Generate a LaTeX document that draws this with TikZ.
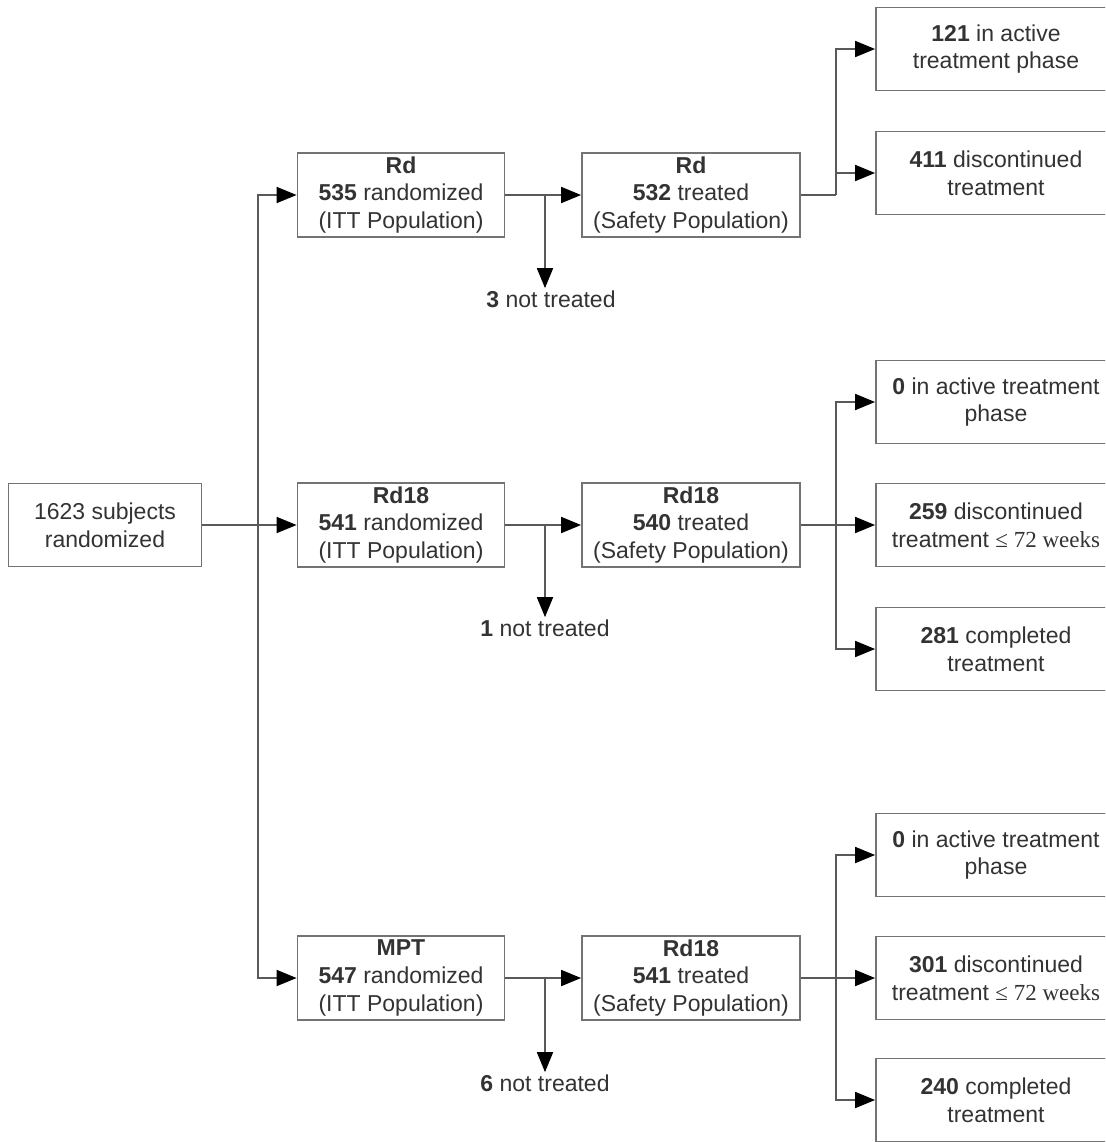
\documentclass[tikz,border=0pt]{standalone}
\usepackage{fontspec}
\setmainfont{Liberation Sans}
\newfontfamily\wkfont{Liberation Serif}
\usetikzlibrary{arrows.meta}

\tikzset{
	box/.style={draw=black!55, line width=0.9pt, fill=white, align=center, text=black!80,
		font=\fontsize{11.5}{13.8}\selectfont, inner sep=2pt},
	ittbox/.style={box, minimum width=103.5pt, minimum height=41.5pt},
	safbox/.style={box, minimum width=109pt, minimum height=41.5pt},
	outbox/.style={box, minimum width=120pt, minimum height=41.5pt},
	lbl/.style={text=black!80, font=\fontsize{11.5}{13.8}\selectfont, inner sep=1pt},
	conn/.style={draw=black!65, line width=0.9pt},
	arr/.style={conn, -{Triangle[length=10pt,width=8pt,color=black]}}
}

\begin{document}
\begin{tikzpicture}[x=0.5pt, y=-0.5pt]
		% Marco de la imagen
		\clip (0,0) rectangle (1105,1142);
		\fill[white] (0,0) rectangle (1105,1142);
		
		% Nodo inicial
		\node[box, minimum width=96.5pt, minimum height=41.5pt] (subj) at (105,525) {1623 subjects\\randomized};
		
		% Fila 1: Rd
		\node[ittbox] (itt1) at (401,195) {\textbf{Rd}\\\textbf{535} randomized\\(ITT Population)};
		\node[safbox] (saf1) at (691,195) {\textbf{Rd}\\\textbf{532} treated\\(Safety Population)};
		\node[outbox] (o11) at (996,49) {\textbf{121} in active\\treatment phase};
		\node[outbox] (o12) at (996,173) {\textbf{411} discontinued\\treatment};
		\node[lbl] (nt1) at (551,299) {\textbf{3} not treated};
		
		% Fila 2: Rd18
		\node[ittbox] (itt2) at (401,525) {\textbf{Rd18}\\\textbf{541} randomized\\(ITT Population)};
		\node[safbox] (saf2) at (691,525) {\textbf{Rd18}\\\textbf{540} treated\\(Safety Population)};
		\node[outbox] (o21) at (996,402) {\textbf{0} in active treatment\\phase};
		\node[outbox] (o22) at (996,525) {\textbf{259} discontinued\\treatment {\wkfont ≤ 72 weeks}};
		\node[outbox] (o23) at (996,649) {\textbf{281} completed\\treatment};
		\node[lbl] (nt2) at (545,628) {\textbf{1} not treated};
		
		% Fila 3: MPT
		\node[ittbox] (itt3) at (401,978) {\textbf{MPT}\\\textbf{547} randomized\\(ITT Population)};
		\node[safbox] (saf3) at (691,978) {\textbf{Rd18}\\\textbf{541} treated\\(Safety Population)};
		\node[outbox] (o31) at (996,855) {\textbf{0} in active treatment\\phase};
		\node[outbox] (o32) at (996,978) {\textbf{301} discontinued\\treatment {\wkfont ≤ 72 weeks}};
		\node[outbox] (o33) at (996,1100) {\textbf{240} completed\\treatment};
		\node[lbl] (nt3) at (545,1083) {\textbf{6} not treated};
		
		% Puntos de ramificacion
		\coordinate (j0) at (258,525);
		\coordinate (k1) at (545,195);
		\coordinate (k2) at (545,525);
		\coordinate (k3) at (545,978);
		\coordinate (b1) at (836,195);
		\coordinate (b2) at (836,525);
		\coordinate (b3) at (836,978);
		
		% Aleatorizacion
		\draw[arr] (subj) -- (itt2);
		\draw[arr] (j0) |- (itt1.west);
		\draw[arr] (j0) |- (itt3.west);
		
		% Tratados y no tratados
		\draw[arr] (itt1) -- (saf1);
		\draw[arr] (itt2) -- (saf2);
		\draw[arr] (itt3) -- (saf3);
		\draw[arr] (k1) -- (k1 |- nt1.north);
		\draw[arr] (k2) -- (k2 |- nt2.north);
		\draw[arr] (k3) -- (k3 |- nt3.north);
		
		% Estado del tratamiento
		\draw[conn] (saf1) -- (b1);
		\draw[arr] (b1) |- (o11.west);
		\draw[arr] (b1) |- (o12.west);
		\draw[conn] (saf2) -- (b2);
		\draw[arr] (b2) |- (o21.west);
		\draw[arr] (b2) -- (o22.west);
		\draw[arr] (b2) |- (o23.west);
		\draw[conn] (saf3) -- (b3);
		\draw[arr] (b3) |- (o31.west);
		\draw[arr] (b3) -- (o32.west);
		\draw[arr] (b3) |- (o33.west);
	\end{tikzpicture}
\end{document}
